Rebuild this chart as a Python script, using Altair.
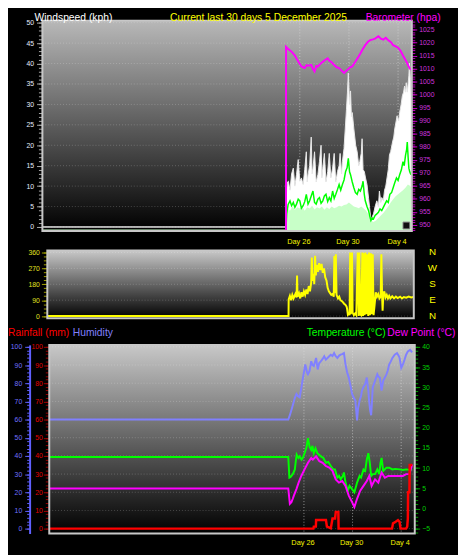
import altair as alt
import pandas as pd

# ---------------- values ----------------
# time axis: days after 26 November 00:00 (negative = before)
T_START, T_END = -20.96, 9.12

gust = [(-20.96, 0), (-1.13, 0), (-1.1, 8.0), (-1.0, 11.0), (-0.93, 11.2), (-0.8, 9.0), (-0.67, 13.0),
        (-0.53, 14.4), (-0.4, 10.0), (-0.27, 12.8), (-0.13, 16.5), (0.0, 11.2), (0.13, 12.0), (0.27, 10.4),
        (0.4, 14.0), (0.53, 18.4), (0.6, 11.0), (0.67, 12.8), (0.8, 15.0), (0.93, 22.0), (1.0, 13.0),
        (1.07, 14.4), (1.2, 18.4), (1.33, 11.0), (1.47, 12.8), (1.6, 16.0), (1.73, 20.0), (1.8, 12.0),
        (1.87, 14.4), (2.0, 18.0), (2.13, 11.0), (2.27, 13.6), (2.4, 18.0), (2.53, 12.0), (2.67, 14.4),
        (2.8, 18.0), (2.93, 11.0), (3.07, 13.6), (3.2, 15.0), (3.28, 18.0), (3.4, 13.0), (3.47, 16.0),
        (3.6, 19.2), (3.7, 24.0), (3.8, 28.8), (3.88, 33.0), (3.95, 37.7), (4.05, 30.0), (4.13, 33.3),
        (4.2, 27.0), (4.27, 28.0), (4.4, 24.0), (4.55, 20.0), (4.67, 18.4), (4.8, 15.0), (4.88, 16.0),
        (5.0, 18.0), (5.07, 21.6), (5.15, 14.0), (5.25, 13.6), (5.35, 12.0), (5.47, 10.4), (5.6, 7.0),
        (5.68, 4.8), (5.79, 1.6), (5.9, 2.5), (6.0, 3.2), (6.13, 5.0), (6.27, 6.4), (6.4, 5.0), (6.48, 8.8),
        (6.6, 6.0), (6.67, 7.2), (6.8, 6.5), (6.9, 9.0), (7.0, 10.0), (7.1, 12.0), (7.2, 14.0), (7.3, 17.6),
        (7.4, 18.5), (7.55, 20.8), (7.65, 22.0), (7.73, 24.0), (7.85, 26.0), (7.92, 27.2), (8.05, 26.0),
        (8.13, 28.0), (8.25, 30.0), (8.35, 32.1), (8.45, 33.0), (8.53, 34.5), (8.61, 33.0), (8.67, 35.3),
        (8.75, 33.0), (8.8, 34.5), (8.88, 37.0), (8.93, 40.1), (9.0, 36.1), (9.07, 32.0)]

wind_fill = [(-20.96, -0.6), (-1.13, -0.6), (-1.12, 3.0), (-1.0, 4.5), (-0.8, 4.0), (-0.6, 5.0), (-0.4, 4.2),
             (-0.2, 4.8), (0.0, 4.5), (0.2, 5.0), (0.4, 4.0), (0.6, 4.8), (0.8, 4.5), (1.0, 5.2), (1.2, 4.3),
             (1.4, 4.8), (1.6, 4.5), (1.8, 5.0), (2.0, 4.2), (2.2, 4.8), (2.4, 4.4), (2.6, 5.0), (2.8, 4.6),
             (3.0, 4.8), (3.2, 5.2), (3.4, 5.0), (3.6, 5.4), (3.8, 5.5), (4.0, 6.0), (4.2, 5.5), (4.4, 5.0),
             (4.6, 4.8), (4.8, 4.6), (5.0, 5.0), (5.2, 4.5), (5.4, 4.0), (5.6, 3.0), (5.8, 1.5), (6.0, 1.2),
             (6.2, 1.6), (6.4, 2.2), (6.6, 2.8), (6.8, 3.4), (7.0, 4.2), (7.2, 5.0), (7.4, 6.0), (7.6, 6.8),
             (7.8, 7.5), (8.0, 8.0), (8.2, 8.5), (8.4, 9.0), (8.6, 9.6), (8.8, 10.4), (9.0, 10.0), (9.08, 9.5)]

wind_avg = [(-1.12, 0), (-1.07, 3.2), (-0.95, 5.5), (-0.8, 6.4), (-0.67, 5.2), (-0.53, 6.0), (-0.4, 4.8),
            (-0.27, 5.6), (-0.13, 6.8), (0.0, 6.4), (0.13, 4.6), (0.27, 5.2), (0.4, 6.2), (0.53, 8.0),
            (0.67, 5.6), (0.8, 6.4), (0.93, 7.6), (1.07, 8.8), (1.2, 6.0), (1.33, 5.6), (1.47, 6.8),
            (1.6, 7.2), (1.73, 5.8), (1.87, 6.4), (2.0, 7.6), (2.13, 8.0), (2.27, 6.2), (2.4, 7.2),
            (2.53, 6.4), (2.67, 8.8), (2.8, 7.0), (2.93, 8.0), (3.07, 9.2), (3.2, 10.4), (3.33, 9.0),
            (3.47, 10.4), (3.6, 11.5), (3.73, 13.6), (3.85, 14.5), (3.95, 16.8), (4.05, 13.5), (4.13, 12.8),
            (4.27, 11.0), (4.4, 9.6), (4.53, 8.4), (4.67, 8.0), (4.8, 9.2), (4.93, 8.8), (5.07, 10.0),
            (5.15, 11.2), (5.25, 8.0), (5.33, 6.4), (5.47, 5.0), (5.6, 4.0), (5.7, 2.6), (5.79, 1.6),
            (5.9, 2.2), (6.0, 2.0), (6.13, 2.8), (6.27, 3.2), (6.4, 3.6), (6.53, 4.4), (6.67, 4.0),
            (6.8, 4.8), (6.93, 5.6), (7.07, 6.4), (7.2, 6.0), (7.33, 8.0), (7.47, 8.4), (7.6, 9.6),
            (7.73, 10.8), (7.87, 12.0), (8.0, 11.4), (8.13, 12.8), (8.27, 14.0), (8.4, 16.0), (8.5, 15.0),
            (8.61, 17.6), (8.7, 19.0), (8.75, 20.8), (8.82, 17.0), (8.88, 14.4), (8.95, 13.5), (9.05, 12.8)]

pressure = [(-1.125, 947.7), (-1.12, 1018.3), (-0.95, 1017.5), (-0.67, 1016.5), (-0.4, 1015.0), (-0.27, 1013.9),
            (-0.1, 1012.5), (0.13, 1010.8), (0.4, 1010.2), (0.55, 1011.3), (0.67, 1011.1), (0.93, 1011.4),
            (1.05, 1010.0), (1.2, 1008.9), (1.35, 1011.0), (1.47, 1010.8), (1.73, 1012.1), (2.0, 1013.1),
            (2.27, 1013.9), (2.4, 1013.0), (2.53, 1012.7), (2.8, 1011.4), (3.0, 1010.5), (3.2, 1010.2),
            (3.4, 1009.2), (3.6, 1008.3), (3.87, 1009.5), (4.1, 1010.5), (4.27, 1010.8), (4.53, 1012.7),
            (4.73, 1014.2), (4.93, 1015.8), (5.13, 1017.5), (5.33, 1019.0), (5.55, 1020.3), (5.73, 1020.9),
            (5.95, 1021.2), (6.13, 1021.5), (6.4, 1022.4), (6.6, 1021.5), (6.8, 1021.1), (7.0, 1021.8),
            (7.2, 1020.9), (7.4, 1020.2), (7.6, 1019.0), (7.8, 1018.5), (8.0, 1018.0), (8.2, 1016.8),
            (8.4, 1015.0), (8.55, 1013.8), (8.7, 1012.5), (8.85, 1011.0), (8.96, 1010.0), (9.08, 1009.5)]

wind_dir = [(-20.96, 0), (-1.16, 0), (-1.15, 95), (-1.05, 115), (-0.95, 90), (-0.85, 120), (-0.75, 100),
            (-0.6, 125), (-0.5, 105), (-0.46, 229), (-0.42, 110), (-0.3, 130), (-0.2, 100), (-0.1, 135),
            (0.0, 110), (0.1, 140), (0.2, 120), (0.3, 150), (0.4, 125), (0.5, 170), (0.6, 140), (0.7, 190),
            (0.75, 332), (0.8, 200), (0.9, 240), (0.95, 180), (1.02, 341), (1.08, 230), (1.15, 290),
            (1.25, 250), (1.35, 300), (1.45, 260), (1.55, 295), (1.65, 245), (1.75, 270), (1.85, 220),
            (1.96, 200), (2.05, 160), (2.15, 140), (2.25, 130), (2.35, 120), (2.45, 125), (2.55, 110),
            (2.6, 340), (2.65, 130), (2.72, 350), (2.78, 120), (2.9, 100), (3.0, 110), (3.1, 90), (3.2, 85),
            (3.3, 79), (3.4, 70), (3.5, 65), (3.6, 55), (3.65, 40), (3.71, 8), (3.8, 15), (3.85, 5),
            (3.9, 360), (3.95, 10), (4.05, 360), (4.1, 20), (4.2, 5), (4.3, 15), (4.4, 5), (4.52, 360),
            (4.6, 0), (4.65, 360), (4.72, 10), (4.8, 5), (4.9, 360), (4.95, 0), (5.02, 355), (5.08, 5),
            (5.15, 360), (5.22, 10), (5.3, 350), (5.38, 0), (5.45, 360), (5.52, 5), (5.6, 355), (5.68, 10),
            (5.75, 350), (5.82, 5), (5.9, 60), (6.0, 135), (6.1, 110), (6.2, 125), (6.3, 100), (6.4, 110),
            (6.46, 350), (6.52, 110), (6.56, 30), (6.62, 120), (6.7, 140), (6.8, 105), (6.9, 120),
            (7.0, 100), (7.1, 115), (7.2, 100), (7.35, 112), (7.5, 100), (7.65, 110), (7.8, 102), (8.0, 110),
            (8.15, 100), (8.3, 108), (8.5, 104), (8.7, 110), (8.9, 105), (9.1, 108)]

humidity = [(-20.96, 60), (-1.29, 60), (-1.16, 62.4), (-1.0, 66), (-0.89, 68.6), (-0.75, 72), (-0.62, 74.1),
            (-0.5, 73), (-0.35, 72.3), (-0.2, 78), (-0.08, 83.1), (0.11, 90.3), (0.25, 86), (0.33, 84.9),
            (0.46, 86.7), (0.6, 92.1), (0.7, 90), (0.81, 89.4), (1.0, 93.9), (1.13, 87.6), (1.25, 91),
            (1.4, 92.1), (1.55, 93.5), (1.67, 94.8), (1.8, 93), (1.94, 93.9), (2.1, 95), (2.21, 95.7),
            (2.35, 95), (2.48, 96.6), (2.6, 95), (2.75, 93.9), (2.9, 95.2), (3.02, 95.7), (3.15, 96),
            (3.29, 96.6), (3.42, 90.3), (3.55, 86), (3.69, 83.1), (3.85, 78), (3.96, 74.1), (4.1, 72),
            (4.23, 70.5), (4.3, 65), (4.37, 59.6), (4.45, 66), (4.58, 70.5), (4.7, 73), (4.77, 75.9),
            (4.9, 78), (5.04, 79.5), (5.17, 83.1), (5.3, 76), (5.36, 70.5), (5.45, 65), (5.53, 62.4),
            (5.6, 70), (5.66, 77.7), (5.85, 81.3), (6.04, 84.9), (6.15, 83.5), (6.25, 83.1), (6.39, 75.9),
            (6.52, 81.3), (6.65, 83), (6.79, 84.9), (6.9, 87), (7.01, 90.3), (7.15, 92), (7.28, 93.9),
            (7.47, 95.7), (7.66, 96.6), (7.8, 95), (7.87, 93.9), (8.01, 88.5), (8.14, 90.3), (8.28, 93.0),
            (8.41, 95.7), (8.55, 97.5), (8.74, 98.4), (8.9, 97)]

temperature = [(-20.96, 12.75), (-1.29, 12.75), (-1.2, 7.64), (-1.1, 7.8), (-1.03, 8.05), (-0.9, 8.6),
               (-0.75, 9.67), (-0.68, 11.5), (-0.6, 13.33), (-0.45, 12.5), (-0.35, 12.9), (-0.2, 12.1),
               (-0.08, 12.6), (0.05, 13.7), (0.2, 15.0), (0.33, 17.4), (0.46, 15.3), (0.6, 14.5), (0.7, 15.5),
               (0.81, 13.7), (0.95, 14.9), (1.1, 13.7), (1.25, 13.3), (1.4, 12.9), (1.6, 12.5), (1.8, 11.3),
               (2.0, 11.5), (2.21, 10.5), (2.4, 9.7), (2.55, 9.67), (2.75, 7.64), (2.9, 8.05), (3.02, 7.2),
               (3.2, 8.0), (3.29, 8.9), (3.42, 6.4), (3.6, 4.3), (3.75, 5.6), (3.96, 4.8), (4.15, 4.0),
               (4.3, 5.6), (4.37, 6.4), (4.58, 8.05), (4.7, 7.64), (4.9, 9.67), (5.04, 9.3), (5.17, 12.1),
               (5.3, 13.7), (5.42, 11.3), (5.53, 8.05), (5.66, 8.5), (5.85, 8.5), (6.04, 9.67), (6.2, 8.5),
               (6.3, 11.3), (6.39, 12.5), (6.52, 9.3), (6.79, 10.1), (7.01, 10.1), (7.28, 9.67), (7.5, 9.8),
               (7.87, 9.67), (8.14, 9.5), (8.41, 9.67), (8.74, 9.5), (8.9, 9.67)]

dew_point = [(-20.96, 4.96), (-1.29, 4.96), (-1.16, 1.15), (-1.03, 1.56), (-0.92, 2.4), (-0.83, 3.18),
             (-0.62, 4.8), (-0.44, 6.4), (-0.22, 8.05), (0.05, 9.67), (0.33, 11.3), (0.6, 12.5), (0.73, 12.1),
             (1.0, 12.9), (1.27, 11.7), (1.54, 11.3), (1.8, 10.5), (2.08, 10.1), (2.35, 9.3), (2.62, 7.2),
             (2.88, 6.4), (3.15, 6.8), (3.42, 5.6), (3.69, 3.18), (3.96, 1.56), (4.15, 0.35), (4.37, 2.4),
             (4.63, 4.4), (4.9, 5.6), (5.17, 6.8), (5.38, 8.05), (5.57, 5.6), (5.85, 7.2), (6.12, 6.4),
             (6.39, 8.9), (6.66, 7.6), (6.93, 8.05), (7.33, 8.05), (7.74, 8.05), (8.14, 8.05), (8.41, 8.5),
             (8.68, 8.5), (8.9, 10.9)]

rainfall = [(-20.96, 0), (0.78, 0), (0.81, 1.1), (0.98, 1.1), (1.0, 4.7), (1.81, 4.7), (1.89, 1.1),
            (2.21, 0.2), (2.35, 5.6), (2.56, 5.6), (2.62, 9.2), (2.83, 9.2), (2.85, 0), (7.25, 0),
            (7.33, 2.9), (7.55, 3.8), (7.74, 4.7), (7.87, 3.8), (7.95, 0), (8.41, 0), (8.5, 1.1),
            (8.55, 5.6), (8.57, 20), (8.68, 20), (8.7, 35), (8.92, 35)]

day_ticks = [0, 4, 8]
day_labels = ["Day 26", "Day 30", "Day 4"]
compass_deg = [360, 270, 180, 90, 0]
compass_labels = ["N", "W", "S", "E", "N"]
ws_ticks = [0, 5, 10, 15, 20, 25, 30, 35, 40, 45, 50]
baro_ticks = [950, 955, 960, 965, 970, 975, 980, 985, 990, 995, 1000, 1005, 1010, 1015, 1020, 1025]
dir_ticks = [0, 90, 180, 270, 360]
hum_ticks = [0, 10, 20, 30, 40, 50, 60, 70, 80, 90, 100]
temp_ticks = [-5, 0, 5, 10, 15, 20, 25, 30, 35, 40]

top_titles = ["Windspeed (kph)", "Current last 30 days 5 December 2025", "Barometer (hpa)"]
low_titles = ["Rainfall (mm)", "Humidity", "Temperature (°C)", "Dew Point (°C)"]

# ---------------- layout ----------------
W, H = 458, 547


def VX(x):
    return x - 8


def VY(y):
    return y - 2


P1 = {"L": 43, "R": 419, "T": 10, "B": 224}
P2 = {"L": 48, "R": 421, "T": 244, "B": 313}
P3 = {"L": 50, "R": 422, "T": 340, "B": 532}

WS_DOM = [-0.96, 50.5]
BARO_DOM = [947.7, 1028.4]
DIR_DOM = [-12.8, 371]
HUM_DOM = [-2.7, 101.1]
TEMP_DOM = [-6.2, 40.49]

one = pd.DataFrame({"k": [0]})


def xs(p):
    return alt.Scale(domain=[T_START, T_END], range=[VX(p["L"]), VX(p["R"])], nice=False, zero=False)


def ys(dom, p):
    return alt.Scale(domain=dom, range=[VY(p["B"]), VY(p["T"])], nice=False, zero=False)


def series(pairs):
    return pd.DataFrame(pairs, columns=["t", "v"])


def xy(p, dom):
    return dict(x=alt.X("t:Q", scale=xs(p), axis=None),
                y=alt.Y("v:Q", scale=ys(dom, p), axis=None))


def background(p, top):
    grad = alt.LinearGradient(gradient="linear",
                              stops=[alt.GradientStop(color=top, offset=0),
                                     alt.GradientStop(color="#000000", offset=1)],
                              x1=0, x2=0, y1=0, y2=1)
    return alt.Chart(one).mark_rect(fill=grad).encode(
        x=alt.value(VX(p["L"])), x2=alt.value(VX(p["R"])),
        y=alt.value(VY(p["T"])), y2=alt.value(VY(p["B"])))


def frame(p):
    return alt.Chart(one).mark_rect(filled=False, stroke="#c8c8c8", strokeWidth=2).encode(
        x=alt.value(VX(p["L"])), x2=alt.value(VX(p["R"])),
        y=alt.value(VY(p["T"])), y2=alt.value(VY(p["B"])))


def hgrid(vals, dom, p):
    return alt.Chart(pd.DataFrame({"v": vals})).mark_rule(
        color="#ffffff", opacity=0.22, strokeDash=[1, 2]).encode(
        y=alt.Y("v:Q", scale=ys(dom, p), axis=None),
        x=alt.value(VX(p["L"])), x2=alt.value(VX(p["R"])))


def vgrid(p):
    return alt.Chart(pd.DataFrame({"t": day_ticks})).mark_rule(
        color="#e0e0e0", opacity=0.6, strokeDash=[1, 2]).encode(
        x=alt.X("t:Q", scale=xs(p), axis=None),
        y=alt.value(VY(p["T"])), y2=alt.value(VY(p["B"])))


def day_text(p, ypos):
    return alt.Chart(pd.DataFrame({"t": day_ticks, "lab": day_labels})).mark_text(
        fontSize=7.5, color="#f4f400", baseline="middle", dx=-1).encode(
        x=alt.X("t:Q", scale=xs(p), axis=None), y=alt.value(VY(ypos)), text="lab:N")


def axis_layer(vals, dom, p, orient, xline, tick_color, tick_size, label_color=None, pad=2,
               domain_color=None):
    offset = -VX(xline) if orient == "left" else VX(xline) - W
    kw = dict(values=vals, orient=orient, offset=offset, title=None, grid=False,
              ticks=True, tickColor=tick_color, tickSize=tick_size, tickWidth=1,
              labelFlush=False, labelOverlap=False, labelPadding=pad, format="d")
    if label_color:
        kw.update(labels=True, labelColor=label_color, labelFontSize=7)
    else:
        kw.update(labels=False)
    if domain_color:
        kw.update(domain=True, domainColor=domain_color, domainWidth=2)
    else:
        kw.update(domain=False)
    return alt.Chart(pd.DataFrame({"v": vals})).mark_point(opacity=0).encode(
        y=alt.Y("v:Q", scale=ys(dom, p), axis=alt.Axis(**kw)))


def text_at(s, x, y, color, size=10.5, align="left", baseline="alphabetic"):
    return alt.Chart(one).mark_text(align=align, baseline=baseline, fontSize=size, color=color).encode(
        x=alt.value(x), y=alt.value(y), text=alt.value(s))


layers = []

# ---- panel 1: wind speed & barometer ----
layers += [background(P1, "#b8b8b8"), hgrid(ws_ticks, WS_DOM, P1), vgrid(P1)]
layers.append(alt.Chart(series(gust)).mark_area(color="#ffffff", stroke="#e8e8e8", strokeWidth=1).encode(
    y2=alt.datum(0), **xy(P1, WS_DOM)))
layers.append(alt.Chart(series(wind_fill)).mark_area(color="#c8ffc8").encode(
    y2=alt.datum(-0.96), **xy(P1, WS_DOM)))
layers.append(alt.Chart(series(wind_avg)).mark_line(color="#00ff00", strokeWidth=1.5).encode(**xy(P1, WS_DOM)))
layers.append(alt.Chart(series(pressure)).mark_line(color="#ff00ff", strokeWidth=2).encode(**xy(P1, BARO_DOM)))
layers.append(alt.Chart(one).mark_rect(fill="#101010", stroke="#909090", strokeWidth=1).encode(
    x=alt.value(VX(410)), x2=alt.value(VX(417)), y=alt.value(VY(215)), y2=alt.value(VY(222))))
layers.append(frame(P1))
layers.append(axis_layer(ws_ticks, WS_DOM, P1, "left", 43, "#a8a8a8", 6, "#e4ecff", 3))
layers.append(axis_layer(list(range(0, 51)), WS_DOM, P1, "left", 43, "#a8a8a8", 4))
layers.append(axis_layer(baro_ticks, BARO_DOM, P1, "right", 419, "#c000c0", 5, "#cc33dd", 2))
layers.append(axis_layer(list(range(948, 1029)), BARO_DOM, P1, "right", 419, "#c000c0", 3))
layers.append(day_text(P1, 235))
layers.append(text_at(top_titles[0], VX(35), 8, "#ffffff"))
layers.append(text_at(top_titles[1], VX(173), 8, "#ffff00"))
layers.append(text_at(top_titles[2], VX(372), 8, "#ff00ff"))

# ---- panel 2: wind direction ----
layers += [background(P2, "#c8c8c8"), hgrid(dir_ticks, DIR_DOM, P2)]
layers.append(alt.Chart(series(wind_dir)).mark_line(color="#ffff00", strokeWidth=2).encode(**xy(P2, DIR_DOM)))
layers.append(frame(P2))
layers.append(axis_layer(dir_ticks, DIR_DOM, P2, "left", 48, "#a0a000", 6, "#e0e020", 2))
layers.append(axis_layer([i * 22.5 for i in range(17)], DIR_DOM, P2, "left", 48, "#a0a000", 4))
layers.append(alt.Chart(pd.DataFrame({"v": compass_deg, "lab": compass_labels})).mark_text(
    fontSize=10, color="#ffff00", baseline="middle", align="center").encode(
    x=alt.value(VX(440)), y=alt.Y("v:Q", scale=ys(DIR_DOM, P2), axis=None), text="lab:N"))

# ---- panel 3: rain, humidity, temperature, dew point ----
layers += [background(P3, "#c8c8c8"), hgrid(hum_ticks, HUM_DOM, P3), vgrid(P3)]
layers.append(alt.Chart(series(humidity)).mark_line(color="#8080ff", strokeWidth=2).encode(**xy(P3, HUM_DOM)))
layers.append(alt.Chart(series(temperature)).mark_line(color="#00ff00", strokeWidth=2).encode(**xy(P3, TEMP_DOM)))
layers.append(alt.Chart(series(dew_point)).mark_line(color="#ff00ff", strokeWidth=2).encode(**xy(P3, TEMP_DOM)))
layers.append(alt.Chart(series(rainfall)).mark_line(color="#ff0000", strokeWidth=2.5).encode(**xy(P3, HUM_DOM)))
layers.append(frame(P3))
layers.append(axis_layer(hum_ticks, HUM_DOM, P3, "left", 30, "#6060ff", 5, "#7070ff", 3, domain_color="#6060ff"))
layers.append(axis_layer(list(range(0, 101, 2)), HUM_DOM, P3, "left", 30, "#6060ff", 3))
layers.append(axis_layer(hum_ticks, HUM_DOM, P3, "left", 49, "#a00000", 5, "#e00000", 1))
layers.append(axis_layer(list(range(0, 101, 2)), HUM_DOM, P3, "left", 49, "#a00000", 3))
layers.append(axis_layer(temp_ticks, TEMP_DOM, P3, "right", 422, "#00a000", 5, "#00d000", 2))
layers.append(axis_layer(list(range(-6, 41)), TEMP_DOM, P3, "right", 422, "#00a000", 3))
layers.append(day_text(P3, 542))
layers.append(text_at(low_titles[0], 0, VY(331), "#ff0000"))
layers.append(text_at(low_titles[1], 66, VY(331), "#8080ff"))
layers.append(text_at(low_titles[2], VX(312), VY(331), "#00ff00"))
layers.append(text_at(low_titles[3], VX(394), VY(331), "#ff00ff"))

chart = alt.layer(*layers).resolve_scale(x="independent", y="independent").properties(
    width=W, height=H, padding=0, background="#000000",
    autosize=alt.AutoSizeParams(type="none"),
).configure(font="Liberation Sans").configure_view(strokeWidth=0)

chart.save("out.html", embed_options={"renderer": "svg", "actions": False})
